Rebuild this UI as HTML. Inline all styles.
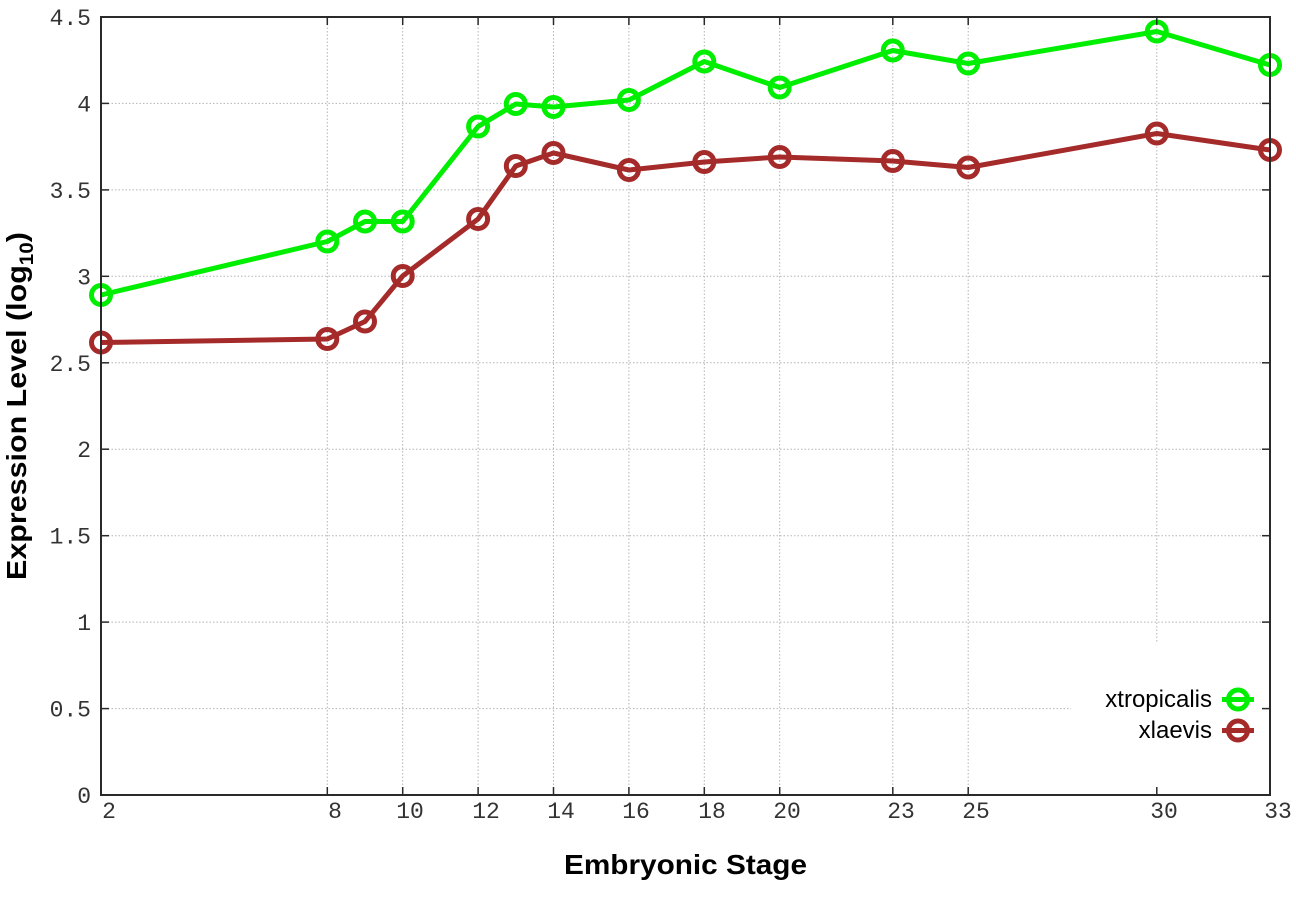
<!DOCTYPE html>
<html><head><meta charset="utf-8"><style>
html,body{margin:0;padding:0;background:#fff;}
svg{display:block;}
.tk{font-family:"Liberation Mono",monospace;font-size:23px;fill:#333;}
.ax{font-family:"Liberation Sans",sans-serif;font-weight:bold;font-size:28px;fill:#000;}
.lg{font-family:"Liberation Sans",sans-serif;font-size:24px;fill:#000;}
</style></head><body>
<svg width="1296" height="907" viewBox="0 0 1296 907" xmlns="http://www.w3.org/2000/svg">
<rect width="1296" height="907" fill="#fff"/>
<!-- grid -->
<g stroke="#b4b4b4" stroke-width="1" stroke-dasharray="1.5 2" fill="none">
<line x1="101" y1="708.6" x2="1270" y2="708.6"/>
<line x1="101" y1="622.1" x2="1270" y2="622.1"/>
<line x1="101" y1="535.7" x2="1270" y2="535.7"/>
<line x1="101" y1="449.2" x2="1270" y2="449.2"/>
<line x1="101" y1="362.8" x2="1270" y2="362.8"/>
<line x1="101" y1="276.3" x2="1270" y2="276.3"/>
<line x1="101" y1="189.9" x2="1270" y2="189.9"/>
<line x1="101" y1="103.4" x2="1270" y2="103.4"/>
<line x1="327.3" y1="17" x2="327.3" y2="795"/>
<line x1="402.7" y1="17" x2="402.7" y2="795"/>
<line x1="478.1" y1="17" x2="478.1" y2="795"/>
<line x1="553.5" y1="17" x2="553.5" y2="795"/>
<line x1="628.9" y1="17" x2="628.9" y2="795"/>
<line x1="704.3" y1="17" x2="704.3" y2="795"/>
<line x1="779.7" y1="17" x2="779.7" y2="795"/>
<line x1="892.8" y1="17" x2="892.8" y2="795"/>
<line x1="968.2" y1="17" x2="968.2" y2="795"/>
<line x1="1156.8" y1="17" x2="1156.8" y2="795"/>
</g>
<!-- legend box mask -->
<rect x="1071" y="642" width="197" height="146" fill="#fff"/>
<!-- series -->
<g fill="none" stroke-width="5" stroke-linejoin="round">
<polyline stroke="#00ee00" points="101,295 327.3,241.5 365,221.5 402.7,221.5 478.1,126.5 515.8,104 553.5,107 628.9,100 704.3,61.5 779.7,87.5 892.8,50.5 968.2,63.5 1156.8,31.5 1270,65"/>
<polyline stroke="#a52a2a" points="101,342.5 327.3,339 365,321.5 402.7,276 478.1,219 515.8,166 553.5,153 628.9,170 704.3,162 779.7,157 892.8,161 968.2,167.5 1156.8,133.5 1270,150"/>
</g>
<g fill="none" stroke="#00ee00" stroke-width="5">
<circle cx="101" cy="295" r="9.5"/><circle cx="327.3" cy="241.5" r="9.5"/><circle cx="365" cy="221.5" r="9.5"/><circle cx="402.7" cy="221.5" r="9.5"/><circle cx="478.1" cy="126.5" r="9.5"/><circle cx="515.8" cy="104" r="9.5"/><circle cx="553.5" cy="107" r="9.5"/><circle cx="628.9" cy="100" r="9.5"/><circle cx="704.3" cy="61.5" r="9.5"/><circle cx="779.7" cy="87.5" r="9.5"/><circle cx="892.8" cy="50.5" r="9.5"/><circle cx="968.2" cy="63.5" r="9.5"/><circle cx="1156.8" cy="31.5" r="9.5"/><circle cx="1270" cy="65" r="9.5"/>
</g>
<g fill="none" stroke="#a52a2a" stroke-width="5">
<circle cx="101" cy="342.5" r="9.5"/><circle cx="327.3" cy="339" r="9.5"/><circle cx="365" cy="321.5" r="9.5"/><circle cx="402.7" cy="276" r="9.5"/><circle cx="478.1" cy="219" r="9.5"/><circle cx="515.8" cy="166" r="9.5"/><circle cx="553.5" cy="153" r="9.5"/><circle cx="628.9" cy="170" r="9.5"/><circle cx="704.3" cy="162" r="9.5"/><circle cx="779.7" cy="157" r="9.5"/><circle cx="892.8" cy="161" r="9.5"/><circle cx="968.2" cy="167.5" r="9.5"/><circle cx="1156.8" cy="133.5" r="9.5"/><circle cx="1270" cy="150" r="9.5"/>
</g>
<!-- frame -->
<rect x="101" y="17" width="1169" height="778" fill="none" stroke="#2a2a2a" stroke-width="2"/>
<g stroke="#2a2a2a" stroke-width="1.5">
<line x1="101" y1="708.6" x2="109" y2="708.6"/><line x1="1262" y1="708.6" x2="1270" y2="708.6"/>
<line x1="101" y1="622.1" x2="109" y2="622.1"/><line x1="1262" y1="622.1" x2="1270" y2="622.1"/>
<line x1="101" y1="535.7" x2="109" y2="535.7"/><line x1="1262" y1="535.7" x2="1270" y2="535.7"/>
<line x1="101" y1="449.2" x2="109" y2="449.2"/><line x1="1262" y1="449.2" x2="1270" y2="449.2"/>
<line x1="101" y1="362.8" x2="109" y2="362.8"/><line x1="1262" y1="362.8" x2="1270" y2="362.8"/>
<line x1="101" y1="276.3" x2="109" y2="276.3"/><line x1="1262" y1="276.3" x2="1270" y2="276.3"/>
<line x1="101" y1="189.9" x2="109" y2="189.9"/><line x1="1262" y1="189.9" x2="1270" y2="189.9"/>
<line x1="101" y1="103.4" x2="109" y2="103.4"/><line x1="1262" y1="103.4" x2="1270" y2="103.4"/>
<line x1="327.3" y1="787" x2="327.3" y2="795"/><line x1="327.3" y1="17" x2="327.3" y2="25"/>
<line x1="402.7" y1="787" x2="402.7" y2="795"/><line x1="402.7" y1="17" x2="402.7" y2="25"/>
<line x1="478.1" y1="787" x2="478.1" y2="795"/><line x1="478.1" y1="17" x2="478.1" y2="25"/>
<line x1="553.5" y1="787" x2="553.5" y2="795"/><line x1="553.5" y1="17" x2="553.5" y2="25"/>
<line x1="628.9" y1="787" x2="628.9" y2="795"/><line x1="628.9" y1="17" x2="628.9" y2="25"/>
<line x1="704.3" y1="787" x2="704.3" y2="795"/><line x1="704.3" y1="17" x2="704.3" y2="25"/>
<line x1="779.7" y1="787" x2="779.7" y2="795"/><line x1="779.7" y1="17" x2="779.7" y2="25"/>
<line x1="892.8" y1="787" x2="892.8" y2="795"/><line x1="892.8" y1="17" x2="892.8" y2="25"/>
<line x1="968.2" y1="787" x2="968.2" y2="795"/><line x1="968.2" y1="17" x2="968.2" y2="25"/>
<line x1="1156.8" y1="787" x2="1156.8" y2="795"/><line x1="1156.8" y1="17" x2="1156.8" y2="25"/>
</g>
<!-- y tick labels -->
<g class="tk" text-anchor="end">
<text x="91" y="803">0</text>
<text x="91" y="716.6">0.5</text>
<text x="91" y="630.1">1</text>
<text x="91" y="543.7">1.5</text>
<text x="91" y="457.2">2</text>
<text x="91" y="370.8">2.5</text>
<text x="91" y="284.3">3</text>
<text x="91" y="197.9">3.5</text>
<text x="91" y="111.4">4</text>
<text x="91" y="25">4.5</text>
</g>
<!-- x tick labels -->
<g class="tk" text-anchor="middle">
<text x="109" y="818">2</text>
<text x="335" y="818">8</text>
<text x="410" y="818">10</text>
<text x="486" y="818">12</text>
<text x="561" y="818">14</text>
<text x="636" y="818">16</text>
<text x="712" y="818">18</text>
<text x="787" y="818">20</text>
<text x="901" y="818">23</text>
<text x="976" y="818">25</text>
<text x="1164" y="818">30</text>
<text x="1278" y="818">33</text>
</g>
<!-- axis labels -->
<text class="ax" x="564" y="874" textLength="243" lengthAdjust="spacingAndGlyphs">Embryonic Stage</text>
<text class="ax" transform="translate(26,580) rotate(-90) scale(1.088,1)" x="0" y="0">Expression Level (log<tspan font-size="19" dy="7">10</tspan><tspan dy="-7">)</tspan></text>
<!-- legend -->
<g class="lg" text-anchor="end">
<text x="1212" y="707">xtropicalis</text>
<text x="1212" y="738">xlaevis</text>
</g>
<line x1="1222" y1="699.5" x2="1254" y2="699.5" stroke="#00ee00" stroke-width="5"/>
<circle cx="1238" cy="699.5" r="9.5" fill="none" stroke="#00ee00" stroke-width="5"/>
<line x1="1222" y1="730.5" x2="1254" y2="730.5" stroke="#a52a2a" stroke-width="5"/>
<circle cx="1238" cy="730.5" r="9.5" fill="none" stroke="#a52a2a" stroke-width="5"/>
</svg>
</body></html>
